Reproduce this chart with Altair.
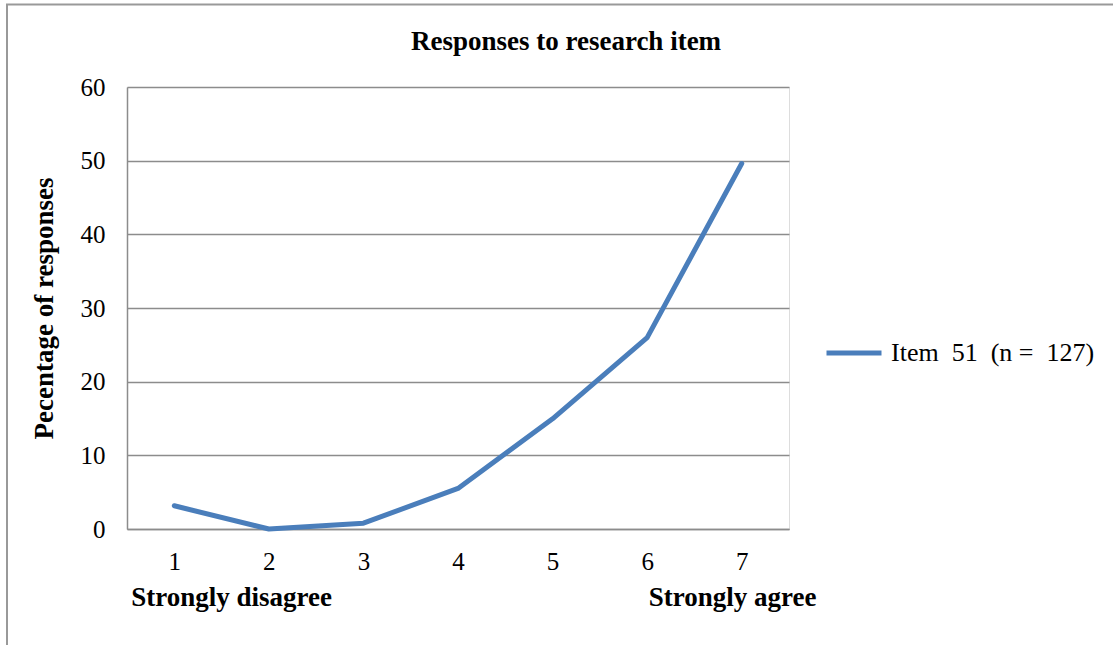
import altair as alt
import pandas as pd

categories = ["1", "2", "3", "4", "5", "6", "7"]
percentages = [3.15, 0.0, 0.79, 5.51, 14.96, 25.98, 49.61]
series_name = "Item\u00a0 51\u00a0 (n =\u00a0 127)"
title_text = ["Responses to research item"]
end_labels = ["Strongly disagree", "Strongly agree"]
end_categories = ["1", "7"]

df = pd.DataFrame({"cat": categories, "pct": percentages, "series": series_name})
ann = pd.DataFrame({"cat": end_categories, "label": end_labels})
tdf = pd.DataFrame({"t": title_text})

FONT = "Liberation Serif"
W, H = 662, 442
GRAY = "#8c8c8c"
XS = alt.Scale(type="point", padding=0.5)

x_enc = alt.X("cat:N", sort=categories, scale=XS,
              axis=alt.Axis(title=None, labelAngle=0, ticks=False, labelFontSize=25,
                            labelFont=FONT, labelColor="#000", labelPadding=20,
                            domainColor=GRAY, domainWidth=1.5, grid=False))

line = alt.Chart(df).mark_line(strokeWidth=5, strokeCap="round", strokeJoin="round").encode(
    x=x_enc,
    y=alt.Y("pct:Q", scale=alt.Scale(domain=[0, 60]),
            axis=alt.Axis(values=[0, 10, 20, 30, 40, 50, 60], title="Pecentage of responses",
                          titleFont=FONT, titleFontSize=27, titleFontWeight="bold",
                          titleColor="#000", titleAngle=270, titleX=-83, titleY=H / 2,
                          titleAlign="center", titleBaseline="middle",
                          labelFont=FONT, labelFontSize=25, labelColor="#000",
                          labelPadding=22, ticks=False, domainColor=GRAY, domainWidth=1.5,
                          gridColor=GRAY, gridWidth=1.5)),
    color=alt.Color("series:N", scale=alt.Scale(range=["#4a7ebb"]),
                    legend=alt.Legend(title=None, orient="none", legendX=697, legendY=236,
                                      symbolType="stroke", symbolSize=3025,
                                      symbolStrokeWidth=5, labelFont=FONT, labelFontSize=26,
                                      labelColor="#000", labelOffset=7, labelLimit=400)),
)


def end_text(cat, dx):
    return alt.Chart(ann[ann.cat == cat]).mark_text(
        font=FONT, fontSize=27, fontWeight="bold", align="left", baseline="alphabetic",
        color="#000", dx=dx).encode(
        x=alt.X("cat:N", sort=categories, scale=XS),
        y=alt.value(H + 77), text="label:N")


title = alt.Chart(tdf).mark_text(font=FONT, fontSize=27, fontWeight="bold", align="center",
                                 baseline="alphabetic", color="#000").encode(
    x=alt.value(439), y=alt.value(-37), text="t:N")

border_left = alt.Chart(df.head(1)).mark_rule(color="#999", strokeWidth=2).encode(
    x=alt.value(-120), y=alt.value(-82.5), y2=alt.value(H + 200))
border_top = alt.Chart(df.head(1)).mark_rule(color="#999", strokeWidth=2).encode(
    x=alt.value(-121), x2=alt.value(1100), y=alt.value(-82.5))

chart = alt.layer(border_left, border_top, line, end_text("1", -43), end_text("7", -93),
                  title).properties(
    width=W, height=H,
    padding={"left": 127, "top": 87, "right": 324, "bottom": 116},
    autosize=alt.AutoSizeParams(type="none"),
).configure_view(stroke=None).configure(background="white")

chart.save("out.html", embed_options={"renderer": "svg", "actions": False})
